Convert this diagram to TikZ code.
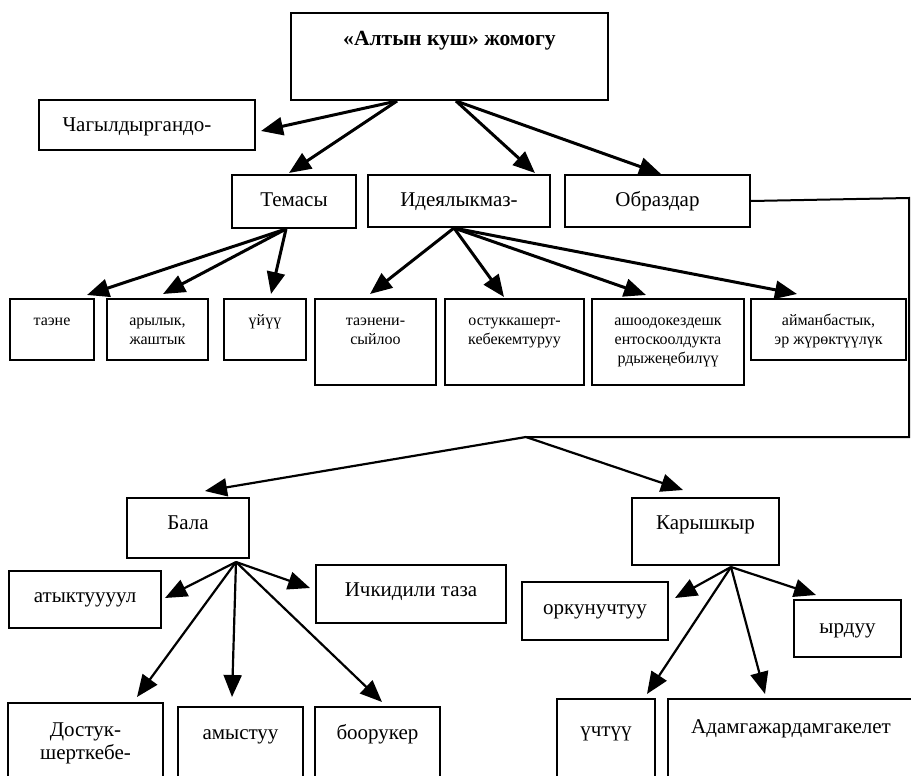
\documentclass[tikz,border=0pt]{standalone}
\usepackage{fontspec}
\setmainfont{Liberation Serif}
\usetikzlibrary{arrows.meta,calc}
\newcommand{\mlines}[1]{\begin{tabular}[t]{@{}c@{}}#1\end{tabular}}
\begin{document}
\begin{tikzpicture}[x=0.5pt,y=-0.5pt,
  box/.style={draw, line width=1pt, inner sep=0pt, anchor=north west, font=\fontsize{10.5}{11.5}\selectfont},
  sm/.style={font=\fontsize{8}{9.5}\selectfont},
  geom/.style n args={3}{minimum width=#1*0.5pt, text height=#2*0.5pt, text depth=#3*0.5pt},
  arr/.style={-{Triangle[length=11pt,width=9pt]}, line width=1.1pt},
  arrT/.style={arr, line width=1.5pt},
  conn/.style={line width=1pt}]
\path[use as bounding box] (0,0) rectangle (911,776);
\clip (0,0) rectangle (911,776);

% level 0 and 1
\node[box, geom={317}{33}{54}, font=\fontsize{10.8}{12}\selectfont\bfseries] (top) at (290,12) {«Алтын куш» жомогу};
\node[box, geom={216}{31}{19}] (chag) at (38,99) {Чагылдыргандо-\hspace*{10pt}};
\node[box, geom={124}{31}{22}] (tem) at (231,174) {Темасы};
\node[box, geom={182}{31}{21}] (ide) at (367,174) {Идеялыкмаз-};
\node[box, geom={185}{31}{21}] (obr) at (564,174) {Образдар};

% level 2 (small text)
\node[box, sm, geom={84}{26}{35}] (r1) at (9,298) {таэне};
\node[box, sm, geom={101}{26}{35}] (r2) at (106,298) {\mlines{арылык,\\жаштык}};
\node[box, sm, geom={82}{26}{35}] (r3) at (223,298) {үйүү};
\node[box, sm, geom={121}{26}{60}] (r4) at (314,298) {\mlines{таэнени-\\сыйлоо}};
\node[box, sm, geom={139}{26}{60}] (r5) at (444,298) {\mlines{остуккашерт-\\кебекемтуруу}};
\node[box, sm, geom={152}{26}{60}] (r6) at (591,298) {\mlines{ашоодокездешк\\ентоскоолдукта\\рдыжеңебилүү}};
\node[box, sm, geom={155}{26}{35}] (r7) at (750,298) {\mlines{айманбастык,\\эр жүрөктүүлүк}};

% characters
\node[box, geom={122}{31}{29}] (bala) at (126,497) {Бала};
\node[box, geom={147}{31}{36}] (kar) at (631,497) {Карышкыр};
\node[box, geom={152}{31}{26}] (aty) at (8,570) {атыктуууул};
\node[box, geom={190}{31}{27}] (ich) at (315,564) {Ичкидили таза};
\node[box, geom={146}{32}{26}] (ork) at (521,581) {оркунучтуу};
\node[box, geom={107}{33}{24}] (yrd) at (793,599) {ырдуу};
\node[box, geom={155}{33}{100}] (dos) at (7,702) {\mlines{Достук-\\шерткебе-}};
\node[box, geom={125}{32}{100}] (amy) at (177,706) {амыстуу};
\node[box, geom={125}{32}{100}] (boo) at (314,706) {боорукер};
\node[box, geom={98}{37}{100}] (uch) at (556,698) {үчтүү};
\node[box, geom={246}{34}{100}] (adam) at (667,698) {Адамгажардамгакелет};

% connectors from the title
\coordinate (s1) at ($(top.south west)+(107,0)$);
\coordinate (s2) at ($(top.south west)+(166,0)$);
\draw[arrT] (s1) -- ($(chag.east)+(5,6)$);
\draw[arrT] (s1) -- ($(tem.north)+(-5,-1)$);
\draw[arrT] (s2) -- ($(ide.north east)+(-16,-1)$);
\draw[arrT] (s2) -- ($(obr.north)+(3.5,0)$);

% from Темасы
\coordinate (ts) at ($(tem.south)+(-8,0)$);
\draw[arrT] (ts) -- ($(r1.north east)+(-8,-3)$);
\draw[arrT] (ts) -- ($(r2.north)+(5.5,-4)$);
\draw[arrT] (ts) -- ($(r3.north)+(6,-4)$);

% from Идеялыкмаз-
\coordinate (is) at ($(ide.south)+(-5,0)$);
\draw[arrT] (is) -- ($(r4.north)+(-5.5,-4)$);
\draw[arrT] (is) -- ($(r5.north)+(-10.5,-1)$);
\draw[arrT] (is) -- ($(r6.north)+(-22,-3)$);
\draw[arrT] (is) -- ($(r7.north)+(-31.5,-4)$);

% from Образдар
\coordinate (c1) at (909,198);
\coordinate (c2) at (909,437);
\coordinate (j) at (526,437);
\draw[conn] (obr.east) -- (c1) -- (c2) -- (j);
\draw[arr] (j) -- ($(bala.north)+(17,-6)$);
\draw[arr] (j) -- ($(kar.north)+(-22.5,-7)$);

% from Бала
\coordinate (bs) at ($(bala.south)+(48,3)$);
\draw[arr] (bs) -- ($(aty.east)+(3,-1.5)$);
\draw[arr] (bs) -- ($(ich.west)+(-5,-6)$);
\draw[arr] (bs) -- ($(dos.north east)+(-27,-5)$);
\draw[arr] (bs) -- ($(amy.north)+(-8.5,-9)$);
\draw[arr] (bs) -- ($(boo.north)+(4.5,-4)$);

% from Карышкыр
\coordinate (ks) at ($(kar.south)+(25.5,1)$);
\draw[arr] (ks) -- ($(ork.east)+(6,-13)$);
\draw[arr] (ks) -- ($(yrd.north)+(-31.5,-4)$);
\draw[arr] (ks) -- ($(uch.north east)+(-9,-4)$);
\draw[arr] (ks) -- ($(adam.north west)+(98,-4)$);
\end{tikzpicture}
\end{document}
